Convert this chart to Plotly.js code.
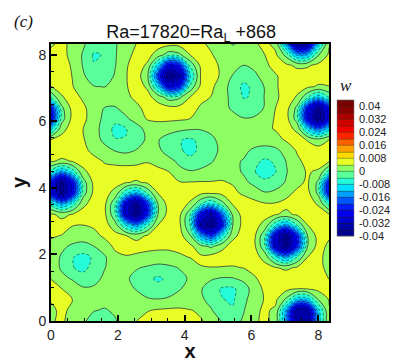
<!DOCTYPE html>
<html>
<head>
<meta charset="utf-8">
<script src="https://cdn.plot.ly/plotly-3.0.1.min.js"></script>
<style>
  html, body { margin: 0; padding: 0; background: #fff; }
  #chart { width: 407px; height: 362px; }
</style>
</head>
<body>
<div id="chart"></div>
<script>
// grid positions
const gridX = [0, 0.32, 0.64, 0.96, 1.28, 1.6, 1.92, 2.24, 2.56, 2.88, 3.2, 3.52, 3.84, 4.16, 4.48, 4.8, 5.12, 5.44, 5.76, 6.08, 6.4, 6.72, 7.04, 7.36, 7.68, 8, 8.32];
const gridY = [0, 0.32, 0.64, 0.96, 1.28, 1.6, 1.92, 2.24, 2.56, 2.88, 3.2, 3.52, 3.84, 4.16, 4.48, 4.8, 5.12, 5.44, 5.76, 6.08, 6.4, 6.72, 7.04, 7.36, 7.68, 8, 8.32];

// w in units of 0.001, one row per gridY value, estimated from the contour lines
const wRows = [
  [3.7,4.5,2.8,.6,-1.5,-2,-.3,2,4,5,5.4,5.5,5.3,4.9,4.3,3,-.3,-1.5,.5,3.4,4.8,2.9,-14,-36,-34,-10.5,3.7],
  [3.5,4.5,3.5,1.5,.2,-.3,.5,2.3,3.6,3.8,4.4,4.7,4.8,4.2,3.4,.3,-2.8,-3.5,-.3,3.2,4.6,3.3,-13,-35,-33.5,-9.5,3.8],
  [4.2,4.8,4,2.6,1.3,1.1,1.1,1.5,1.2,.5,.2,.6,1.2,1.3,.7,-1.3,-3.8,-4.6,-1,1.9,4.3,4.8,-1,-11,-10.5,0,4.2],
  [5,4.1,2.6,.6,.7,1.2,1.6,1,-.2,-2,-2.8,-1.8,-.2,1,.3,-2,-4.6,-4.8,-2,1.8,4.8,6,5,3.9,4,5,5],
  [3.9,1.2,-.5,-2.5,-1.5,.8,1.5,.6,-1.2,-3.2,-4.6,-3.4,-1.2,.5,.8,.4,-.3,-.2,1,3.6,5.2,6,6.3,6.3,6.2,5.3,3.9],
  [2.8,-.7,-3.8,-5,-2.8,-.2,1.7,1.3,.3,-.5,-1.3,-.9,.2,2.2,3.8,3.9,3.8,3.7,4.1,5,5.5,4.2,3.3,4.5,5.7,5.2,2.8],
  [2.2,-.5,-3.8,-5.2,-3.5,-.6,3,3.8,3.2,2.8,2.5,2.9,3.6,4.1,4.7,5.5,5.7,5.5,5.5,5.7,2.5,-7,-14,-4,4,5.3,2.2],
  [3.2,.8,-.7,-1.5,-.1,2.2,4.7,5,5.5,5,4.8,4.6,4.7,5,1.5,-.8,3,5.5,6,5,-3.2,-29,-37.5,-23,0,5.5,3.2],
  [4.3,3.9,2.2,2,3,4.6,5.3,4.1,2.8,4.4,5.7,6,5.8,.5,-13,-21,-8,3,5.5,5,-3.2,-29,-37.5,-23,0,5.5,4.5],
  [5.5,5,4.2,4,4.5,5.6,1.8,-8,-15,-5,4,6,5,-4,-32,-39,-24,0,5.5,5.7,2.5,-7,-14,-4,4,5.8,6],
  [4.4,3.3,4.2,5.6,6,5,-3.2,-29,-38,-23,0,5.5,5,-3,-26,-34,-18,1,5.6,6,5.5,4.2,3.3,4.5,5.7,6,4.4],
  [-5.5,-14,-6.5,3,5.7,5,-3.2,-28,-37,-22,0,5.6,5.7,3.5,-3.5,-8,-1.5,4.4,5.5,4.9,4.3,4.3,4.8,5.3,5.8,3.5,-5.5],
  [-25,-37.5,-26,-2,5,5.6,2.5,-7,-13,-3.5,4.1,5.5,6,5.6,4.8,4.4,5,4.6,3.6,2.5,.4,1,3.2,4.6,5.2,-1,-25],
  [-25,-37.5,-26,-2,5,5.9,5.5,4.2,3.6,4.5,5.3,5,4.3,4.2,4.3,4.3,4.2,3.8,1.2,-1.2,-3.3,-2,.4,3.2,4.5,-1,-25],
  [-5.5,-14,-6.5,3,5.7,4.8,5.2,5.5,5.6,5.2,4.8,4.1,1,.4,1,1.5,3.2,1.5,-.5,-3.8,-5.5,-4.2,-.3,2.8,4.3,3.5,-5.5],
  [4.4,3.3,4.2,5.6,4.9,3.8,3.3,2.9,3.1,3.8,3,1.2,-.8,-3,-2.2,-.3,1.5,.8,-.3,-3,-4.7,-3.5,.1,3.3,5,5.5,4.4],
  [6,6,5.8,4.8,3.2,1.8,-.2,-.9,.2,1.8,.8,-1.6,-3.5,-5,-3.3,-1.5,1,2,1,-.8,-1.6,-1,1.6,4.3,6,5.8,6],
  [4.3,5.4,6.2,4.3,2.2,-1.2,-3.8,-3.8,-1.6,.5,.3,-2.2,-3.8,-4.6,-3.2,-1,1.5,2.7,2.6,2.2,2,2.8,4.4,5.8,3.7,1.5,4.3],
  [-9,2.7,5.8,4,1.8,-1.8,-5,-4.3,-1.7,1.2,2.3,1.8,.8,.2,.2,1,2.7,3.2,3,3,3.4,4.2,5.5,3.2,-9,-17,-9],
  [-27,-2,5.2,4.7,2.6,-1.2,-3,-.6,1.6,4.4,4.7,4.7,4.6,4,3,2.5,1.9,1.5,.2,.5,2,4.4,5.5,-2,-27,-39,-27],
  [-24,-1,5.3,4.6,2.5,-.1,-.3,1.4,3.3,5,5.6,5.2,5.3,5.3,3.6,2.6,1.6,-.8,-2.7,-2.2,.3,4,5.6,-1,-24,-36,-24],
  [-3.5,3.7,5.3,3.5,2,1.7,2,3.3,4.7,5.2,2.5,-2,-.8,4.1,4.8,3.9,2,-1.5,-4.2,-3.7,.3,3.3,5.6,3.7,-3.5,-11,-3.5],
  [3.9,5,4.2,2,.2,-.1,1,3.7,5.5,3.5,-9.5,-27,-23,-3,4.8,4.7,2,-1.8,-4.8,-3.3,.3,3.6,5.4,5,4.7,3.6,3.9],
  [5.5,5.8,3.9,.6,-2.5,-2.8,.5,3.8,5.6,1.4,-20,-39,-35,-9,4.3,5.2,3.5,-.3,-2.7,-1,1.8,3.7,5.2,5.9,5.9,5.5,5.5],
  [5.3,5.5,3.6,-.3,-3.8,-3.8,-.2,3.6,5.6,3.5,-9.5,-27,-23,-3,4.8,5,3.4,1.8,0,1,3.4,5,4.8,3.2,3.5,5,5.6],
  [4.6,5.2,2.8,-.4,-4.4,-3.8,-.4,3,4.8,5.3,2.5,-2,-.8,4.1,5,4.2,2.6,1.2,1.4,2.7,4,4.6,-1.5,-13,-12,-.5,4.6],
  [3.7,4.5,3.5,.6,-2.2,-2.5,-.4,2,4.1,5,5.4,5.2,5.3,5.2,4.5,3.4,1,-.15,.6,3.5,4.9,2.9,-14,-36,-34,-10.5,3.7]
];

// one colour per band, bottom of the colour bar first
const bandColors = [
  '#000090', '#0000b8', '#0000dc', '#0000f5', '#0028ff', '#0064ff', '#00aaff',
  '#00e6ff', '#28ffd7', '#5aff96', '#8cff64', '#e6ff28', '#ffe100', '#ffaa00',
  '#ff6e00', '#ff3200', '#ff0000', '#d70000', '#be0000', '#960000', '#780000'
];
const barTicks = [0.04, 0.032, 0.024, 0.016, 0.008, 0, -0.008, -0.016, -0.024, -0.032, -0.04];
const barLabels = ['0.04', '0.032', '0.024', '0.016', '0.008', '0', '-0.008', '-0.016', '-0.024', '-0.032', '-0.04'];

const levelStart = -0.04;
const levelStep = 0.004;
const levelEnd = 0.044;

const w = wRows.map(row => row.map(v => v * 0.001));

// plotly picks a band's colour at (band index + 1) / number of bands
const colorscale = [[0, bandColors[0]]];
bandColors.forEach((c, i) => {
    colorscale.push([(i + 1) / bandColors.length, c]);
});

const common = { x: gridX, y: gridY, z: w, hoverinfo: 'skip' };
const fontName = 'Liberation Sans, Arial, sans-serif';

const traces = [
    // carries the colour bar with its separator lines, covered by the next one
    {
        ...common, type: 'contour', colorscale: colorscale, zmin: levelStart, zmax: levelEnd,
        contours: { coloring: 'fill', start: levelStart, end: levelEnd, size: levelStep, showlines: true },
        line: { color: 'rgba(40,40,0,0.7)', width: 0.6, smoothing: 1 },
        colorbar: {
            lenmode: 'pixels', len: 136, thicknessmode: 'pixels', thickness: 17,
            x: 1.0295, xanchor: 'left', xpad: 0,
            y: 0.307, yanchor: 'bottom', ypad: 0,
            outlinewidth: 0.5, outlinecolor: '#777',
            ticks: 'outside', ticklen: 3, tickcolor: 'rgba(0,0,0,0)',
            tickmode: 'array', tickvals: barTicks, ticktext: barLabels,
            tickfont: { family: fontName, size: 11, color: '#222' }
        }
    },
    {
        ...common, type: 'contour', colorscale: colorscale, zmin: levelStart, zmax: levelEnd, showscale: false,
        contours: { coloring: 'fill', start: levelStart, end: levelEnd, size: levelStep, showlines: false },
        line: { width: 0, smoothing: 1 }
    },
    // positive levels solid, negative levels dashed
    {
        ...common, type: 'contour', showscale: false,
        contours: { coloring: 'none', start: 0, end: 0.04, size: levelStep },
        line: { color: '#333', width: 0.8, smoothing: 1 }
    },
    {
        ...common, type: 'contour', showscale: false,
        contours: { coloring: 'none', start: levelStart, end: -0.004, size: levelStep },
        line: { color: 'rgba(0,0,0,0.75)', width: 0.6, dash: '3px,2px', smoothing: 1 }
    }
];

const axisStyle = {
    range: [0, 8.32], tickmode: 'linear', tick0: 0, dtick: 2,
    ticks: 'inside', ticklen: 6, tickwidth: 1.5, tickcolor: '#000',
    minor: { dtick: 0.5, ticks: 'inside', ticklen: 3, tickwidth: 1, tickcolor: '#000' },
    showline: true, linecolor: '#000', linewidth: 2, mirror: true,
    showgrid: false, zeroline: false,
    tickfont: { family: fontName, size: 14, color: '#222' }
};

const layout = {
    width: 407,
    height: 362,
    margin: { l: 51, r: 78, t: 44, b: 41 },
    paper_bgcolor: '#fff',
    plot_bgcolor: '#fff',
    showlegend: false,
    title: {
        text: 'Ra=17820=Ra<sub>L</sub> +868',
        font: { family: fontName, size: 18, color: '#111' },
        xref: 'paper', x: 0.504, xanchor: 'center',
        yref: 'container', y: 0.912, yanchor: 'middle'
    },
    xaxis: {
        ...axisStyle,
        title: { text: '<b>x</b>', font: { family: fontName, size: 20, color: '#111' }, standoff: 3 }
    },
    yaxis: {
        ...axisStyle,
        title: { text: '<b>y</b>', font: { family: fontName, size: 20, color: '#111' }, standoff: 6 }
    },
    annotations: [
        {
            text: '<i>(c)</i>', xref: 'paper', yref: 'paper', x: -0.1, y: 1.08, xanchor: 'center', yanchor: 'middle',
            showarrow: false, font: { family: 'Liberation Serif, serif', size: 17, color: '#111' }
        },
        {
            text: '<i>w</i>', xref: 'paper', yref: 'paper', x: 1.06, y: 0.85, xanchor: 'center', yanchor: 'middle',
            showarrow: false, font: { family: 'Liberation Serif, serif', size: 17, color: '#111' }
        }
    ]
};

Plotly.newPlot('chart', traces, layout, { displayModeBar: false, responsive: false });
</script>
</body>
</html>
